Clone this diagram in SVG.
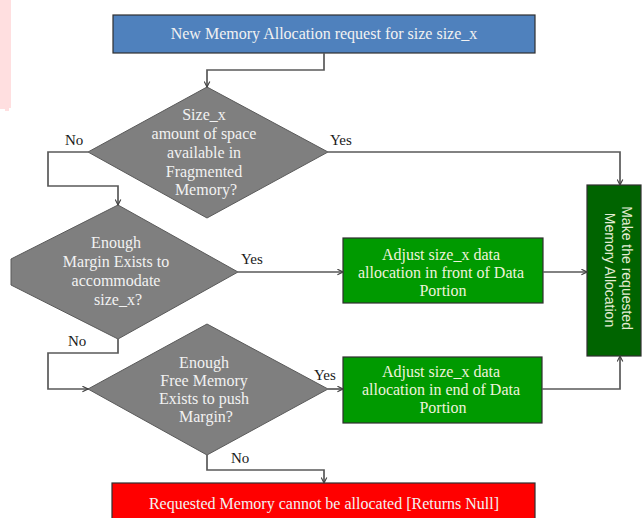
<svg xmlns="http://www.w3.org/2000/svg" width="643" height="518" viewBox="0 0 643 518">
  <defs>
    <marker id="arrow" viewBox="0 0 10 10" refX="9" refY="5" markerWidth="7" markerHeight="7" orient="auto" markerUnits="userSpaceOnUse">
      <path d="M1,1 L9,5 L1,9" fill="none" stroke="#404040" stroke-width="1.6"/>
    </marker>
    <style>
      .edge { fill: none; stroke: #595959; stroke-width: 1.7; }
      .box { stroke: #2f2f2f; stroke-width: 1.2; }
      .dia { fill: #7f7f7f; stroke: #5a5a5a; stroke-width: 1; }
      .t { font-family: "Liberation Serif", "Times New Roman", serif; font-size: 16px; text-anchor: middle; fill: #f2f2f2; }
      .tg { fill: #eef3dc; }
      .lbl { font-family: "Liberation Serif", "Times New Roman", serif; font-size: 15px; fill: #1a1a1a; }
      .ts { font-family: "Liberation Sans", Arial, sans-serif; font-size: 14px; text-anchor: middle; fill: #e4ecd4; }
    </style>
  </defs>

  <rect width="643" height="518" fill="#ffffff"/>
  <!-- pale strip on the left edge -->
  <path d="M0,0 H11 V108 H9 V111 H5 V109 H0 Z" fill="#ffdfe0"/>

  <g id="start">
    <rect class="box" x="113" y="15" width="422" height="38" fill="#4f81bd"/>
    <text class="t" x="324" y="39">New Memory Allocation request for size size_x</text>
  </g>

  <g id="q-fragmented">
    <polygon class="dia" points="207,87 328,152 207,218 88,152"/>
    <text class="t">
      <tspan x="206" y="120">Size_x</tspan>
      <tspan x="206" y="139">amount of space</tspan>
      <tspan x="206" y="158">available in</tspan>
      <tspan x="206" y="177">Fragmented</tspan>
      <tspan x="206" y="195">Memory?</tspan>
    </text>
  </g>

  <g id="q-margin">
    <polygon class="dia" points="118,205 238,272 118,339 11,285 11,259"/>
    <text class="t">
      <tspan x="118" y="248">Enough</tspan>
      <tspan x="118" y="267">Margin Exists to</tspan>
      <tspan x="118" y="286">accommodate</tspan>
      <tspan x="118" y="305">size_x?</tspan>
    </text>
  </g>

  <g id="q-free">
    <polygon class="dia" points="207,324 328,389 207,455 88,389"/>
    <text class="t">
      <tspan x="206" y="368">Enough</tspan>
      <tspan x="206" y="386">Free Memory</tspan>
      <tspan x="206" y="404">Exists to push</tspan>
      <tspan x="206" y="422">Margin?</tspan>
    </text>
  </g>

  <g id="adjust-front">
    <rect class="box" x="343" y="238" width="200" height="65" fill="#009a00"/>
    <text class="t tg">
      <tspan x="443" y="260">Adjust  size_x data</tspan>
      <tspan x="443" y="278">allocation in front of Data</tspan>
      <tspan x="443" y="296">Portion</tspan>
    </text>
  </g>

  <g id="adjust-end">
    <rect class="box" x="343" y="357" width="199" height="66" fill="#009a00"/>
    <text class="t tg">
      <tspan x="443" y="377">Adjust  size_x data</tspan>
      <tspan x="443" y="395">allocation in end of Data</tspan>
      <tspan x="443" y="413">Portion</tspan>
    </text>
  </g>

  <g id="allocate">
    <rect class="box" x="587" y="185" width="54" height="171" fill="#006400"/>
    <text class="ts" transform="translate(614,270) rotate(90)">
      <tspan x="0" y="-8">Make the requested</tspan>
      <tspan x="0" y="9">Memory Allocation</tspan>
    </text>
  </g>

  <g id="fail">
    <rect class="box" x="112" y="483" width="423" height="40" fill="#ff0000"/>
    <text class="t" x="324" y="509">Requested Memory cannot be allocated [Returns Null]</text>
  </g>

  <g id="connectors">
    <polyline class="edge" points="324,53 324,70 207,70 207,87" marker-end="url(#arrow)"/>
    <polyline class="edge" points="88,152 48,152 48,186 118,186 118,205" marker-end="url(#arrow)"/>
    <polyline class="edge" points="328,152 620,152 620,185" marker-end="url(#arrow)"/>
    <polyline class="edge" points="238,272 343,272" marker-end="url(#arrow)"/>
    <polyline class="edge" points="543,272 587,272" marker-end="url(#arrow)"/>
    <polyline class="edge" points="118,339 118,353 48,353 48,389 88,389" marker-end="url(#arrow)"/>
    <polyline class="edge" points="328,389 343,389" marker-end="url(#arrow)"/>
    <polyline class="edge" points="542,389 620,389 620,356" marker-end="url(#arrow)"/>
    <polyline class="edge" points="207,455 207,470 324,470 324,483" marker-end="url(#arrow)"/>
    <text class="lbl" x="65" y="145">No</text>
    <text class="lbl" x="330" y="145">Yes</text>
    <text class="lbl" x="241" y="264">Yes</text>
    <text class="lbl" x="68" y="346">No</text>
    <text class="lbl" x="314" y="380">Yes</text>
    <text class="lbl" x="231" y="463">No</text>
  </g>
</svg>
